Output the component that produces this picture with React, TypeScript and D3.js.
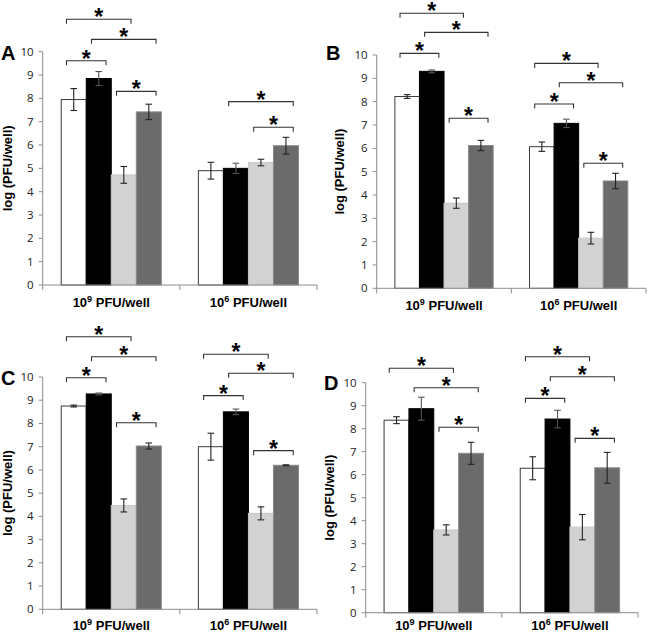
import * as d3 from "d3";

// bar order inside each group: white, black, light grey, dark grey
const series = ["white", "black", "light", "dark"];
const barColors = ["#ffffff", "#000000", "#d2d2d2", "#6b6b6b"];
const barStrokes = ["#3a3a3a", "#000000", "#c8c8c8", "#8a8a8a"];

const categories = ["10^9", "10^6"];
const categoryBase = "10";
const categoryExp = ["9", "6"];
const categorySuffix = " PFU/well";

const yTicks = [0, 1, 2, 3, 4, 5, 6, 7, 8, 9, 10];
const yLabel = "log (PFU/well)";
const panelNames = ["A", "B", "C", "D"];

// means per group [10^9, 10^6]
const meansA = [[7.95, 8.85, 4.72, 7.42], [4.9, 5.0, 5.25, 5.97]];
const meansB = [[8.22, 9.3, 3.65, 6.12], [6.07, 7.07, 2.15, 4.6]];
const meansC = [[8.75, 9.27, 4.47, 7.03], [7.0, 8.5, 4.13, 6.2]];
const meansD = [[8.37, 8.87, 3.6, 6.93], [6.28, 8.42, 3.72, 6.3]];

// error bar half-widths
const errA = [[0.47, 0.3, 0.36, 0.33], [0.36, 0.22, 0.14, 0.36]];
const errB = [[0.08, 0.06, 0.22, 0.22], [0.2, 0.18, 0.25, 0.33]];
const errC = [[0.04, 0.04, 0.28, 0.13], [0.58, 0.12, 0.28, 0.02]];
const errD = [[0.15, 0.5, 0.22, 0.48], [0.5, 0.38, 0.55, 0.67]];

// significance brackets: [group, fromBar, toBar, level in y units]
const bracketsA = [[0, 0, 2, 11.39], [0, 1, 3, 10.53], [0, 0, 1, 9.61], [0, 2, 3, 8.3], [1, 1, 3, 7.86], [1, 2, 3, 6.76]];
const bracketsB = [[0, 0, 2, 11.79], [0, 1, 3, 10.97], [0, 0, 1, 10.07], [0, 2, 3, 7.29], [1, 0, 2, 9.64], [1, 1, 3, 8.81], [1, 0, 1, 7.9], [1, 2, 3, 5.36]];
const bracketsC = [[0, 0, 2, 11.73], [0, 1, 3, 10.87], [0, 0, 1, 9.97], [0, 2, 3, 8.03], [1, 0, 2, 10.98], [1, 1, 3, 10.16], [1, 0, 1, 9.2], [1, 2, 3, 6.83]];
const bracketsD = [[0, 0, 2, 10.63], [0, 1, 3, 9.78], [0, 2, 3, 8.06], [1, 0, 2, 11.13], [1, 1, 3, 10.26], [1, 0, 1, 9.32], [1, 2, 3, 7.58]];

const panelData = [
  { means: meansA, err: errA, brackets: bracketsA },
  { means: meansB, err: errB, brackets: bracketsB },
  { means: meansC, err: errC, brackets: bracketsC },
  { means: meansD, err: errD, brackets: bracketsD },
];

// pixel frame of each panel (axis x, right end, y at 10, y at 0) + letter spot
const frames = [
  { x0: 42.7, x1: 317, yTop: 51.7, yBot: 285, lx: 1, ly: 59.5, labX: 12 },
  { x0: 376.7, x1: 646, yTop: 55, yBot: 288.3, lx: 326, ly: 60, labX: 344 },
  { x0: 42.7, x1: 317, yTop: 377, yBot: 609.3, lx: 1, ly: 384.5, labX: 12 },
  { x0: 365.7, x1: 638, yTop: 382.7, yBot: 612.7, lx: 324, ly: 389.5, labX: 334 },
];

const axisColor = "#8c8c8c";
const sansFont = "'Liberation Sans', Arial, sans-serif";
const tickFont = "'Open Sans', 'Liberation Sans', sans-serif";

function Panel({ idx }: { idx: number }) {
  const f = frames[idx];
  const d = panelData[idx];
  const y = d3.scaleLinear().domain([0, 10]).range([f.yBot, f.yTop]);
  const xGroup = d3.scaleBand<string>().domain(categories).range([f.x0, f.x1]);
  const xBar = d3
    .scaleBand<string>()
    .domain(series)
    .range([0, xGroup.bandwidth()])
    .paddingInner(0)
    .paddingOuter(0.74);
  const bw = xBar.bandwidth();
  const inset = bw * 0.21;
  const catY = Math.min(y(0) + 21.5, 629.5);

  return (
    <g>
      <text x={f.lx} y={f.ly} fontFamily={sansFont} fontWeight="bold" fontSize={20}>
        {panelNames[idx]}
      </text>
      <text
        transform={`translate(${f.labX},${(f.yTop + f.yBot) / 2}) rotate(-90)`}
        textAnchor="middle"
        fontFamily={sansFont}
        fontWeight="bold"
        fontSize={13}
      >
        {yLabel}
      </text>

      {/* y axis */}
      <line x1={f.x0} x2={f.x0} y1={y(0)} y2={y(10)} stroke={axisColor} />
      {yTicks.map((t) => (
        <g key={t}>
          <line x1={f.x0 - 4} x2={f.x0} y1={y(t)} y2={y(t)} stroke={axisColor} />
          <text
            x={f.x0 - 9}
            y={y(t)}
            dy="0.35em"
            textAnchor="end"
            fontFamily={tickFont}
            fontSize={11.5}
            fill="#222"
          >
            {t}
          </text>
        </g>
      ))}

      {/* bars + error bars */}
      {categories.map((c, gi) =>
        series.map((s, si) => {
          const v = d.means[gi][si];
          const e = d.err[gi][si];
          const bx = (xGroup(c) as number) + (xBar(s) as number);
          const cx = bx + bw / 2;
          return (
            <g key={c + s}>
              <rect
                x={bx}
                y={y(v)}
                width={bw}
                height={y(0) - y(v)}
                fill={barColors[si]}
                stroke={barStrokes[si]}
                strokeWidth={1}
              />
              <g stroke={si === 1 ? "#555" : "#222"} strokeWidth={1.1}>
                <line x1={cx} x2={cx} y1={y(v + e)} y2={y(v - e)} />
                <line x1={cx - 3.3} x2={cx + 3.3} y1={y(v + e)} y2={y(v + e)} />
                <line x1={cx - 3.3} x2={cx + 3.3} y1={y(v - e)} y2={y(v - e)} />
              </g>
            </g>
          );
        })
      )}

      {/* x axis */}
      <line x1={f.x0} x2={f.x1} y1={y(0)} y2={y(0)} stroke={axisColor} />
      {[f.x0, (xGroup(categories[1]) as number), f.x1].map((tx, i) => (
        <line key={i} x1={tx} x2={tx} y1={y(0)} y2={y(0) + 5} stroke={axisColor} />
      ))}
      {categories.map((c, gi) => (
        <text
          key={c}
          x={(xGroup(c) as number) + xGroup.bandwidth() / 2}
          y={catY}
          textAnchor="middle"
          fontFamily={sansFont}
          fontWeight="bold"
          fontSize={13}
        >
          <tspan>{categoryBase}</tspan>
          <tspan dy={-5} fontSize={9}>
            {categoryExp[gi]}
          </tspan>
          <tspan dy={5}>{categorySuffix}</tspan>
        </text>
      ))}

      {/* significance brackets */}
      {d.brackets.map(([g, a, b, lv], i) => {
        const gx = xGroup(categories[g]) as number;
        const xa = gx + (xBar(series[a]) as number) + inset;
        const xb = gx + (xBar(series[b]) as number) + bw - inset;
        const by = y(lv);
        return (
          <g key={i}>
            <path
              d={`M${xa},${by + 4.5}V${by}H${xb}V${by + 4.5}`}
              fill="none"
              stroke="#333"
              strokeWidth={1.1}
            />
            <text
              x={(xa + xb) / 2}
              y={by + 6}
              textAnchor="middle"
              fontFamily={sansFont}
              fontWeight="bold"
              fontSize={23}
            >
              *
            </text>
          </g>
        );
      })}
    </g>
  );
}

export default function App() {
  return (
    <svg
      width={650}
      height={632}
      style={{ position: "absolute", left: 0, top: 0, background: "#fff" }}
    >
      {panelNames.map((p, i) => (
        <Panel key={p} idx={i} />
      ))}
    </svg>
  );
}
